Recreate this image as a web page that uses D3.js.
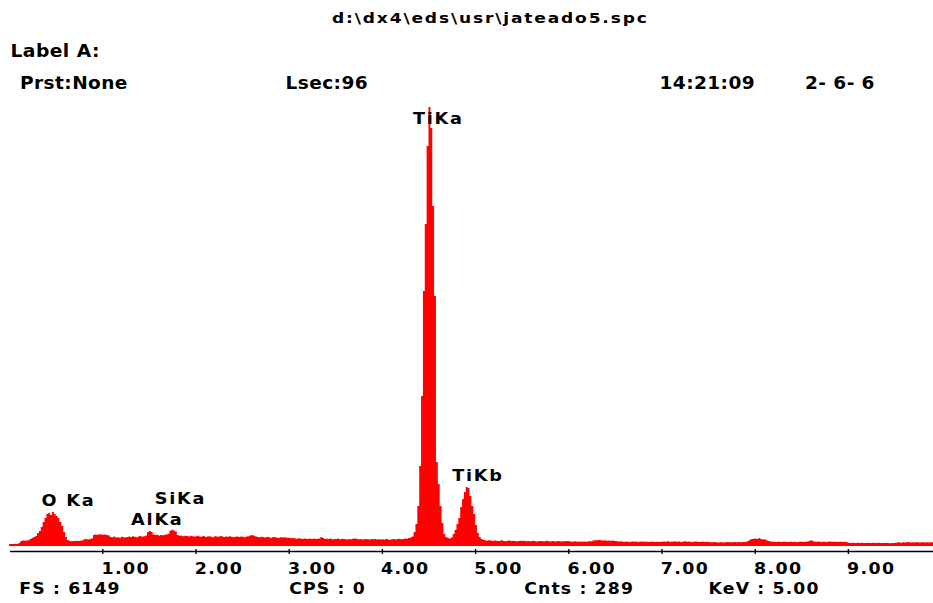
<!DOCTYPE html>
<html><head><meta charset="utf-8">
<script src="https://cdn.jsdelivr.net/npm/d3@7"></script>
<style>
html,body{margin:0;padding:0;background:#fff;}
svg{display:block;}
text{font-family:"DejaVu Sans",sans-serif;font-weight:bold;fill:#000;}
</style></head><body>
<svg id="chart" width="933" height="603"></svg>
<script>
// ---- data ----
const channelWidth = 0.02; // keV per channel
const counts = [
  28,28,27,30,28, 41,70,75,72,76, 80,97,110,124,138, 180,207,262,331,386, 441,455,428,469,441,
  414,386,331,276,193, 124,83,69,66,70, 68,72,69,74,80, 92,95,90,98,105, 150,160,155,162,158,
  155,160,150,145,125, 120,130,118,122,115, 128,120,117,125,130, 124,135,128,120,132, 138,126,134,145,193,
  207,193,160,150,155, 145,152,148,155,160, 170,210,225,215,200, 150,140,145,135,142, 138,130,140,136,132,
  135,140,128,132,138, 125,130,136,128,122, 134,130,126,138,132, 124,130,128,135,126, 120,128,132,125,130,
  128,122,130,135,145, 150,140,132,125,120, 128,124,118,126,122, 115,120,124,118,112, 120,116,122,118,114,
  110,106,112,104,100, 108,102,98,105,100, 96,104,98,102,95, 100,105,125,110,98, 100,96,102,94,98,
  96,104,92,98,100, 94,90,97,93,99, 105,100,92,96,90, 94,98,92,88,95, 92,96,90,94,88,
  92,88,95,90,86, 93,98,90,95,100, 92,96,104,100,110, 118,130,193,303,552, 1103,2068,3516,4439,5515,
  6053,5763,4688,3447,1158, 855,552,317,165,124, 110,105,118,165,221, 303,386,538,648,745, 813,800,690,552,441,
  290,180,124,97,85, 78,72,80,75,70, 76,72,68,74,78, 70,66,72,75,69, 73,68,64,70,72,
  68,72,66,70,64, 68,72,66,62,68, 70,64,67,71,65, 62,68,66,63,69, 65,62,66,64,68,
  65,62,60,64,61, 58,63,60,62,59, 62,64,66,75,80, 78,82,80,76,79, 74,77,72,75,73,
  70,66,62,64,60, 58,62,56,60,63, 58,61,55,59,62, 57,60,58,54,60, 57,55,59,56,58,
  60,62,58,64,60, 57,61,63,59,62, 56,60,64,58,61, 57,55,59,62,58, 54,57,60,55,58,
  55,52,50,54,51, 48,53,50,49,52, 55,50,53,52,56, 52,55,50,54,56, 58,70,85,95,100,
  105,98,110,96,88, 92,80,70,62,58, 60,56,59,57,55, 60,58,56,54,58, 55,57,53,56,60,
  58,55,60,62,72, 78,66,60,58,62, 56,60,58,55,59, 62,57,60,58,56, 60,57,55,58,50,
  45,42,44,40,43, 46,41,44,42,40, 45,43,41,44,40, 42,45,41,43,40, 44,42,39,43,41,
  44,48,50,46,52, 48,50,54,49,51, 47,52,50,48,53, 50,47,51,49,52, 50,48
];
const fullScale = 6149;
const tickValues = [1,2,3,4,5,6,7,8,9];
const peakNames = ["O Ka","AlKa","SiKa","TiKa","TiKb"];
const peakEnergies = [0.525,1.486,1.740,4.510,4.931];
const titleText = "d:\\dx4\\eds\\usr\\jateado5.spc";
const labelText = "Label A:";
const headerTexts = ["Prst:None","Lsec:96","14:21:09","2- 6- 6"];
const footerTexts = ["FS : 6149","CPS : 0","Cnts : 289","KeV : 5.00"];

// ---- drawing ----
const svg = d3.select("#chart");
const W = 933, H = 603;
svg.append("rect").attr("width",W).attr("height",H).attr("fill","#fff");

const x = d3.scaleLinear().domain([0,10]).range([9.1, 941.1]);
const y = d3.scaleLinear().domain([0, fullScale]).range([546, 100]);

const pts = counts.map((c,i)=>({e:i*channelWidth, c}));
pts.push({e:counts.length*channelWidth, c:counts[counts.length-1]});

svg.append("defs").append("clipPath").attr("id","clip")
  .append("rect").attr("x",9).attr("y",0).attr("width",W-9).attr("height",H);

svg.append("path")
  .datum(pts)
  .attr("clip-path","url(#clip)")
  .attr("fill","#ff0000")
  .attr("d", d3.area().x(d=>x(d.e)).y0(y(0)).y1(d=>y(d.c)).curve(d3.curveStepAfter));

// axis
svg.append("line").attr("x1",10).attr("x2",W).attr("y1",551.5).attr("y2",551.5)
  .attr("stroke","#000").attr("stroke-width",1.5);
const ax = svg.append("g").attr("transform","translate(0,549)")
  .call(d3.axisBottom(x).tickValues(tickValues).tickSizeInner(5).tickSizeOuter(0).tickFormat(d3.format(".2f")));
ax.select(".domain").remove();
ax.selectAll(".tick line").attr("stroke","#000").attr("stroke-width",1.4);
ax.selectAll(".tick text")
  .attr("dy",null).attr("y",0).attr("x",0)
  .attr("transform","translate(-1.3,25.3) scale(1.16,1)")
  .attr("text-anchor","start")
  .style("font-family","'DejaVu Sans',sans-serif").style("font-weight","bold")
  .style("font-size","15px").style("letter-spacing","1.2px").attr("fill","#000");

// texts
function txt(s, tx, ty, fs, ls, sx){
  return svg.append("text").attr("x",0).attr("y",0)
    .attr("transform",`translate(${tx},${ty}) scale(${sx},1)`).text(s)
    .style("font-size",fs+"px").style("letter-spacing",ls+"px");
}
txt(titleText, 332, 22.5, 14, 1.5, 1.22);
txt(labelText, 10.5, 56.5, 17.5, 0.4, 1.07);
const headerX = [20, 285.5, 659.5, 805];
headerTexts.forEach((s,i)=>txt(s, headerX[i], 89, 17.5, 0.4, 1.06));
const footerX = [19.3, 289.2, 524.2, 708.6];
footerTexts.forEach((s,i)=>txt(s, footerX[i], 594.3, 15, 1.0, 1.15));

// peak labels
const placed = [];
const pSx = 1.18;
peakNames.forEach((name,i)=>{
  const E = peakEnergies[i];
  let mx = 0;
  pts.forEach(p=>{ if (Math.abs(p.e + channelWidth/2 - E) <= 0.07) mx = Math.max(mx, p.c); });
  let ly = Math.max(124.3, y(mx) - 6);
  const lx = x(E) - 16.5;
  const t = txt(name, lx, ly, 15, 1.5, pSx);
  const w = t.node().getComputedTextLength() * pSx;
  placed.forEach(p=>{
    if (lx < p.x + p.w && p.x < lx + w && Math.abs(p.y - ly) < 18) ly = p.y - 20.7;
  });
  t.attr("transform",`translate(${lx},${ly}) scale(${pSx},1)`);
  placed.push({x:lx, y:ly, w});
});
</script>
</body></html>
